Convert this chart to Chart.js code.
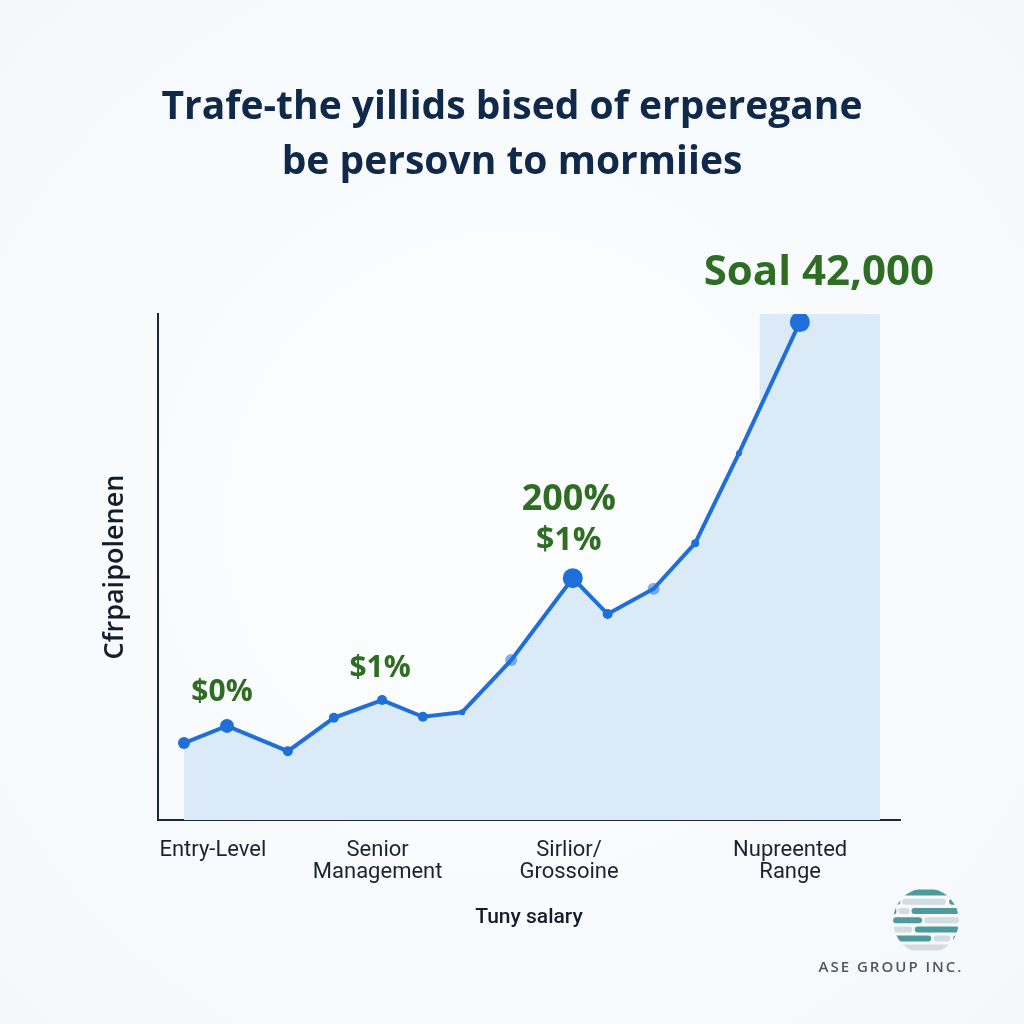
<!DOCTYPE html>
<html><head><meta charset="utf-8">
<script src="https://cdn.jsdelivr.net/npm/chart.js@4.4.1/dist/chart.umd.min.js"></script>
<style>html,body{margin:0;padding:0;background:#f7fbfd;}#wrap{width:1024px;height:1024px;}</style>
</head><body><div id="wrap"><canvas id="c" width="1024" height="1024"></canvas></div>
<script>
// ---- data ----
const titleLines = ["Trafe-the yillids bised of erperegane", "be persovn to mormiies"];
const xAxisTitle = "Tuny salary";
const yAxisTitle = "Cfrpaipolenen";
const tickLabels = ["Entry-Level", ["Senior", "Management"], ["Sirlior/", "Grossoine"], ["Nupreented", "Range"]];
const tickValues = [7.4, 29.6, 55.4, 85.2];
const salaryPosition = [3.5, 9.3, 17.5, 23.7, 30.2, 35.7, 41.0, 47.6, 55.9, 60.6, 66.8, 72.4, 78.3, 86.5];
const yieldValues = [15.2, 18.6, 13.6, 20.2, 23.7, 20.4, 21.3, 31.6, 47.8, 40.7, 45.7, 54.7, 72.5, 98.4];
const pointSizes = [6, 7, 5, 5, 5, 5, 3, 6, 10, 5, 6, 4, 3, 10];
const faintPoints = [7, 10];
const highlightRange = [81.1, 97.3];
const calloutTexts = [["$0%"], ["$1%"], ["200%", "$1%"], ["Soal 42,000"]];
const calloutPoints = [1, 4, 8, 13];
const companyName = "ASE GROUP INC.";

// ---- styles ----
const LINE = '#1f6fd8';
const FILL = '#dbeaf7';
const GREEN = '#2f6d24';
const NAVY = '#10294a';
const AXIS = '#1b2738';
const calloutStyle = [
  { dx: -5, dy: [-33], size: [30] },
  { dx: -2, dy: [-32], size: [30] },
  { dx: -4, dy: [-78, -37], size: [36, 32] },
  { dx: 19, dy: [-49], size: [42] }
];

const points = salaryPosition.map((x, i) => ({ x: x, y: yieldValues[i] }));

const bgPlugin = {
  id: 'bg',
  beforeDraw(chart) {
    const ctx = chart.ctx;
    ctx.save();
    const g = ctx.createRadialGradient(512, 520, 50, 512, 520, 760);
    g.addColorStop(0, '#fcfdfe');
    g.addColorStop(1, '#f4f8fb');
    ctx.fillStyle = g;
    ctx.fillRect(0, 0, chart.width, chart.height);
    ctx.restore();
  }
};

const bandPlugin = {
  id: 'band',
  beforeDatasetsDraw(chart) {
    const { ctx, scales: { x, y } } = chart;
    const x0 = x.getPixelForValue(highlightRange[0]);
    const x1 = x.getPixelForValue(highlightRange[1]);
    const y0 = y.getPixelForValue(y.max);
    const y1 = y.getPixelForValue(0);
    ctx.save();
    ctx.fillStyle = FILL;
    ctx.fillRect(x0, y0, x1 - x0, y1 - y0);
    ctx.restore();
  }
};

const calloutPlugin = {
  id: 'callouts',
  afterDatasetsDraw(chart) {
    const ctx = chart.ctx;
    const meta = chart.getDatasetMeta(0);
    ctx.save();
    ctx.fillStyle = GREEN;
    ctx.textAlign = 'center';
    ctx.textBaseline = 'middle';
    calloutTexts.forEach((lines, k) => {
      const pt = meta.data[calloutPoints[k]];
      const st = calloutStyle[k];
      lines.forEach((t, j) => {
        ctx.font = '700 ' + st.size[j] + 'px "Open Sans"';
        ctx.fillText(t, pt.x + st.dx, pt.y + st.dy[j]);
      });
    });
    ctx.restore();
  }
};

const logoPlugin = {
  id: 'logo',
  afterDraw(chart) {
    const ctx = chart.ctx;
    const cx = 926, cy = 921, r = 33;
    const TEAL = '#4f9a9c', GRAY = '#d3dce1';
    const rows = [
      [-0.86, [[-1, 1, TEAL]]],
      [-0.58, [[-1, -0.78, TEAL], [-0.72, 0.6, GRAY], [0.7, 1, TEAL]]],
      [-0.30, [[-1, -0.9, TEAL], [-0.84, -0.5, GRAY], [-0.44, 1, TEAL]]],
      [-0.02, [[-1, -0.12, TEAL], [-0.05, 1, GRAY]]],
      [0.26, [[-1, -0.42, GRAY], [-0.34, 1, TEAL]]],
      [0.53, [[-1, 0.16, TEAL], [0.24, 0.74, GRAY], [0.82, 1, TEAL]]],
      [0.80, [[-1, 1, GRAY]]]
    ];
    ctx.save();
    ctx.beginPath();
    ctx.arc(cx, cy, r, 0, Math.PI * 2);
    ctx.clip();
    rows.forEach(([ry, segs]) => {
      segs.forEach(([a, b, c]) => {
        ctx.fillStyle = c;
        const xa = cx + a * r, xb = cx + b * r, yy = cy + ry * r - 3;
        ctx.beginPath();
        ctx.roundRect(xa, yy, xb - xa, 6, 3);
        ctx.fill();
      });
    });
    ctx.restore();
    ctx.save();
    ctx.fillStyle = '#4f575e';
    ctx.font = '600 15px "Open Sans"';
    ctx.textAlign = 'center';
    ctx.textBaseline = 'middle';
    ctx.letterSpacing = '2px';
    ctx.fillText(companyName, 891, 968);
    ctx.restore();
  }
};

new Chart(document.getElementById('c'), {
  type: 'line',
  data: {
    datasets: [{
      data: points,
      borderColor: LINE,
      borderWidth: 4,
      backgroundColor: FILL,
      fill: 'origin',
      tension: 0,
      pointRadius: pointSizes,
      pointHoverRadius: pointSizes,
      pointBorderWidth: 0,
      pointBackgroundColor: points.map((p, i) => faintPoints.includes(i) ? 'rgba(31,111,216,0.55)' : LINE)
    }]
  },
  options: {
    responsive: false,
    animation: false,
    layout: { padding: 0 },
    plugins: {
      legend: { display: false },
      tooltip: { enabled: false },
      title: {
        display: true,
        text: titleLines,
        color: NAVY,
        font: { family: 'Open Sans', size: 39, weight: '700', lineHeight: 55 / 39 },
        padding: { top: 80, bottom: 124 }
      }
    },
    scales: {
      x: {
        type: 'linear',
        min: 0, max: 100,
        grid: { display: false, drawTicks: false },
        border: { display: true, color: AXIS, width: 2 },
        afterBuildTicks(scale) { scale.ticks = tickValues.map(v => ({ value: v })); },
        afterFit(scale) { scale.height = 204; },
        ticks: {
          padding: 19,
          color: '#1d2230',
          font: { family: 'Roboto', size: 22, lineHeight: 1.0 },
          maxRotation: 0,
          autoSkip: false,
          callback: (v, i) => tickLabels[i]
        },
        title: {
          display: true,
          text: xAxisTitle,
          color: '#151c2c',
          font: { family: 'Roboto', size: 21, weight: '500', lineHeight: 1.2 },
          padding: { top: 0, bottom: 94 }
        }
      },
      y: {
        min: 0, max: 100,
        grid: { display: false, drawTicks: false },
        border: { display: true, color: AXIS, width: 2 },
        ticks: { display: false },
        afterFit(scale) { scale.width = 158; },
        title: {
          display: true,
          text: yAxisTitle,
          color: '#151c2c',
          font: { family: 'Open Sans', size: 27, weight: '600', lineHeight: 1.2 },
          padding: { top: 99, bottom: 0 }
        }
      },
      yRight: {
        position: 'right',
        min: 0, max: 100,
        grid: { display: false, drawTicks: false },
        border: { display: false },
        ticks: { display: false },
        afterFit(scale) { scale.width = 124; }
      }
    }
  },
  plugins: [bgPlugin, bandPlugin, calloutPlugin, logoPlugin]
});
</script></body></html>
